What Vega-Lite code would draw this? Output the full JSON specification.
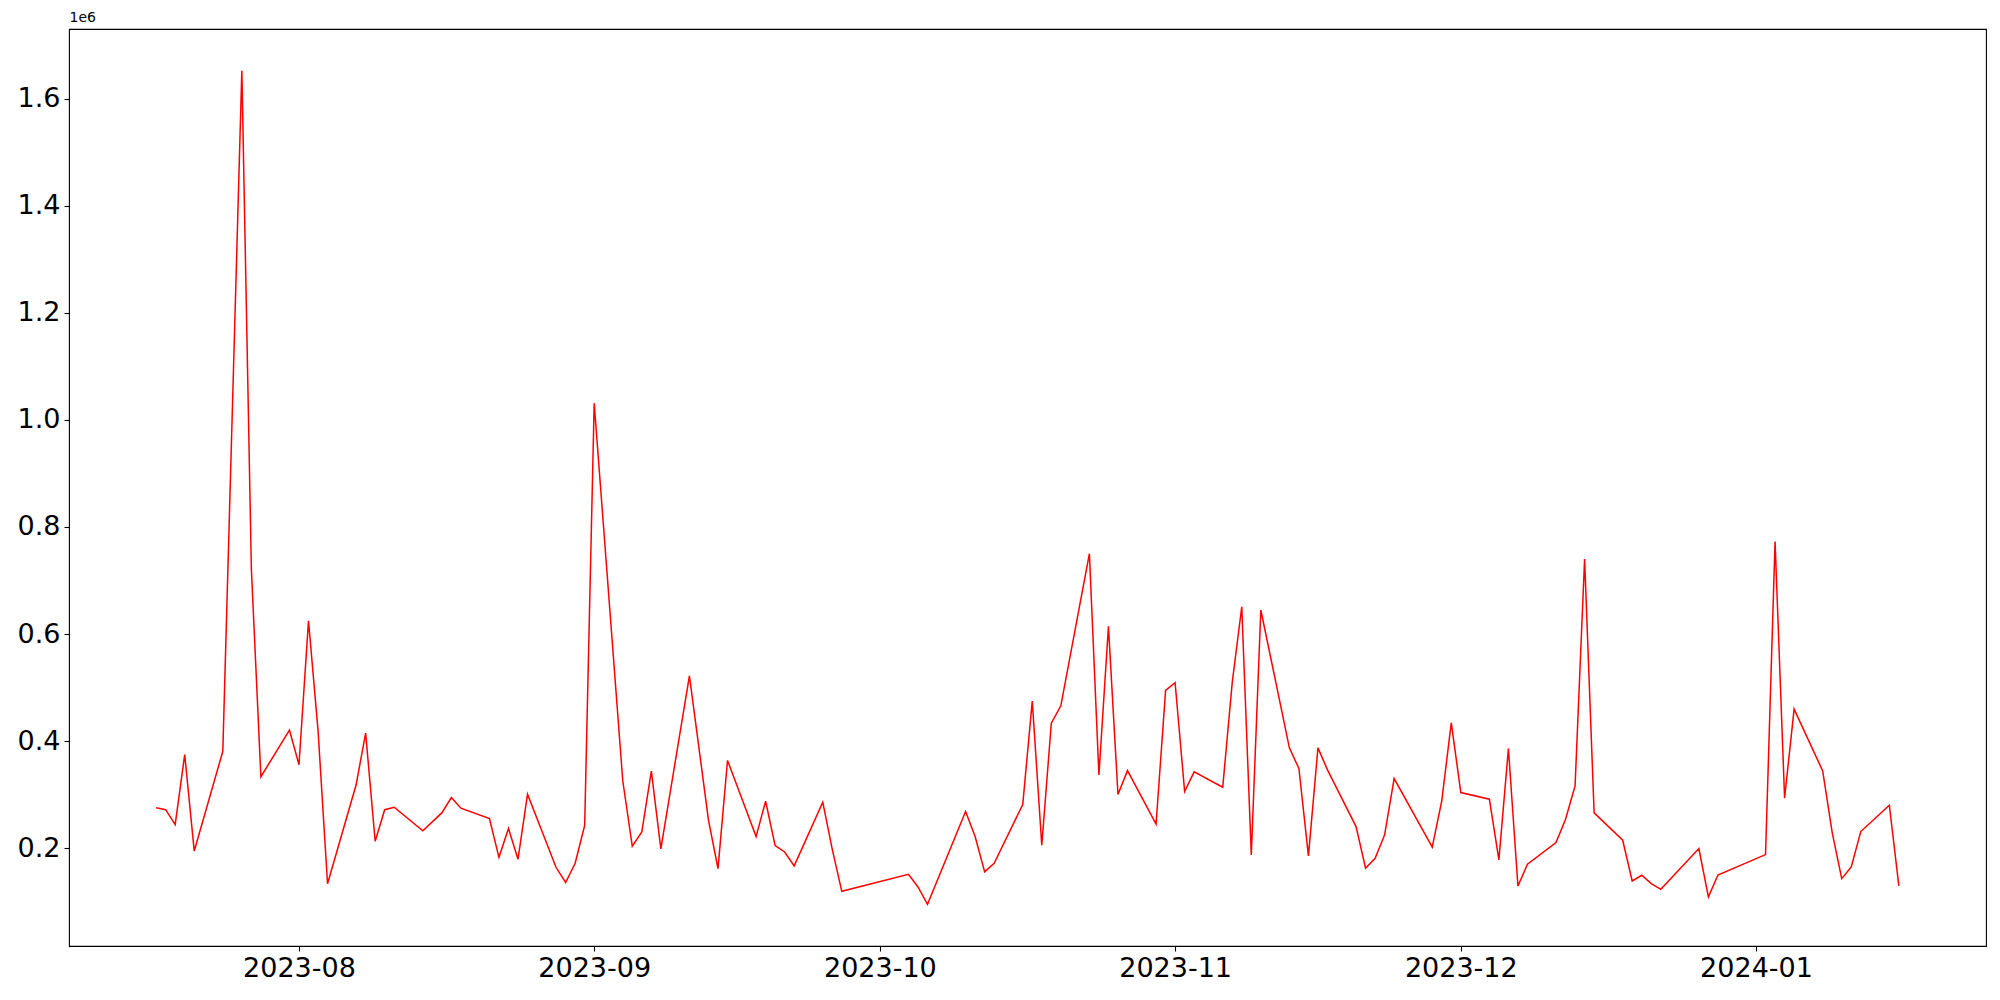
{
  "$schema": "https://vega.github.io/schema/vega-lite/v6.json",
  "width": 1917,
  "height": 917,
  "autosize": {"type": "none"},
  "padding": {"left": 69, "top": 29, "right": 14, "bottom": 54},
  "background": "white",
  "config": {
    "view": {"stroke": "black", "strokeWidth": 1.1},
    "font": "DejaVu Sans",
    "axis": {
      "grid": false,
      "domain": false,
      "tickColor": "black",
      "tickSize": 5,
      "tickWidth": 1.1,
      "labelColor": "black",
      "labelFont": "DejaVu Sans",
      "labelFontSize": 27,
      "labelPadding": 4
    }
  },
  "data": {
    "values": [
      {"date": "2023-07-17", "value": 275500},
      {"date": "2023-07-18", "value": 272000},
      {"date": "2023-07-19", "value": 244000},
      {"date": "2023-07-20", "value": 375000},
      {"date": "2023-07-21", "value": 195000},
      {"date": "2023-07-24", "value": 381000},
      {"date": "2023-07-26", "value": 1652000},
      {"date": "2023-07-27", "value": 721500},
      {"date": "2023-07-28", "value": 333500},
      {"date": "2023-07-31", "value": 420600},
      {"date": "2023-08-01", "value": 356000},
      {"date": "2023-08-02", "value": 624700},
      {"date": "2023-08-03", "value": 420600},
      {"date": "2023-08-04", "value": 133600},
      {"date": "2023-08-07", "value": 318500},
      {"date": "2023-08-08", "value": 415000},
      {"date": "2023-08-09", "value": 213000},
      {"date": "2023-08-10", "value": 272000},
      {"date": "2023-08-11", "value": 276600},
      {"date": "2023-08-14", "value": 232500},
      {"date": "2023-08-16", "value": 266000},
      {"date": "2023-08-17", "value": 294800},
      {"date": "2023-08-18", "value": 274800},
      {"date": "2023-08-21", "value": 255300},
      {"date": "2023-08-22", "value": 183000},
      {"date": "2023-08-23", "value": 237000},
      {"date": "2023-08-24", "value": 179600},
      {"date": "2023-08-25", "value": 301000},
      {"date": "2023-08-28", "value": 164000},
      {"date": "2023-08-29", "value": 136000},
      {"date": "2023-08-30", "value": 172000},
      {"date": "2023-08-31", "value": 242600},
      {"date": "2023-09-01", "value": 1031000},
      {"date": "2023-09-04", "value": 326000},
      {"date": "2023-09-05", "value": 203700},
      {"date": "2023-09-06", "value": 230500},
      {"date": "2023-09-07", "value": 344000},
      {"date": "2023-09-08", "value": 199000},
      {"date": "2023-09-11", "value": 522000},
      {"date": "2023-09-13", "value": 252600},
      {"date": "2023-09-14", "value": 162000},
      {"date": "2023-09-15", "value": 364000},
      {"date": "2023-09-18", "value": 221800},
      {"date": "2023-09-19", "value": 287800},
      {"date": "2023-09-20", "value": 205000},
      {"date": "2023-09-21", "value": 193000},
      {"date": "2023-09-22", "value": 167000},
      {"date": "2023-09-25", "value": 286000},
      {"date": "2023-09-26", "value": 198000},
      {"date": "2023-09-27", "value": 119600},
      {"date": "2023-10-04", "value": 151400},
      {"date": "2023-10-05", "value": 127700},
      {"date": "2023-10-06", "value": 95300},
      {"date": "2023-10-10", "value": 268500},
      {"date": "2023-10-11", "value": 221800},
      {"date": "2023-10-12", "value": 155800},
      {"date": "2023-10-13", "value": 172000},
      {"date": "2023-10-16", "value": 281600},
      {"date": "2023-10-17", "value": 474800},
      {"date": "2023-10-18", "value": 205600},
      {"date": "2023-10-19", "value": 433600},
      {"date": "2023-10-20", "value": 466000},
      {"date": "2023-10-23", "value": 750000},
      {"date": "2023-10-24", "value": 337000},
      {"date": "2023-10-25", "value": 614300},
      {"date": "2023-10-26", "value": 300300},
      {"date": "2023-10-27", "value": 345000},
      {"date": "2023-10-30", "value": 244900},
      {"date": "2023-10-31", "value": 494700},
      {"date": "2023-11-01", "value": 509000},
      {"date": "2023-11-02", "value": 306000},
      {"date": "2023-11-03", "value": 342700},
      {"date": "2023-11-06", "value": 314000},
      {"date": "2023-11-07", "value": 509700},
      {"date": "2023-11-08", "value": 651000},
      {"date": "2023-11-09", "value": 187500},
      {"date": "2023-11-10", "value": 644900},
      {"date": "2023-11-13", "value": 387500},
      {"date": "2023-11-14", "value": 348900},
      {"date": "2023-11-15", "value": 185700},
      {"date": "2023-11-16", "value": 387500},
      {"date": "2023-11-17", "value": 346400},
      {"date": "2023-11-20", "value": 240500},
      {"date": "2023-11-21", "value": 162600},
      {"date": "2023-11-22", "value": 181300},
      {"date": "2023-11-23", "value": 224900},
      {"date": "2023-11-24", "value": 330200},
      {"date": "2023-11-28", "value": 201900},
      {"date": "2023-11-29", "value": 288500},
      {"date": "2023-11-30", "value": 434300},
      {"date": "2023-12-01", "value": 304000},
      {"date": "2023-12-04", "value": 291600},
      {"date": "2023-12-05", "value": 178200},
      {"date": "2023-12-06", "value": 386300},
      {"date": "2023-12-07", "value": 129600},
      {"date": "2023-12-08", "value": 170100},
      {"date": "2023-12-11", "value": 210600},
      {"date": "2023-12-12", "value": 254200},
      {"date": "2023-12-13", "value": 316500},
      {"date": "2023-12-14", "value": 740200},
      {"date": "2023-12-15", "value": 266000},
      {"date": "2023-12-18", "value": 215000},
      {"date": "2023-12-19", "value": 138900},
      {"date": "2023-12-20", "value": 149500},
      {"date": "2023-12-21", "value": 134000},
      {"date": "2023-12-22", "value": 123400},
      {"date": "2023-12-26", "value": 199400},
      {"date": "2023-12-27", "value": 109000},
      {"date": "2023-12-28", "value": 150000},
      {"date": "2024-01-02", "value": 188200},
      {"date": "2024-01-03", "value": 772600},
      {"date": "2024-01-04", "value": 293500},
      {"date": "2024-01-05", "value": 459800},
      {"date": "2024-01-08", "value": 344500},
      {"date": "2024-01-09", "value": 229300},
      {"date": "2024-01-10", "value": 143300},
      {"date": "2024-01-11", "value": 165100},
      {"date": "2024-01-12", "value": 231200},
      {"date": "2024-01-15", "value": 280400},
      {"date": "2024-01-16", "value": 129600}
    ]
  },
  "mark": {"type": "line", "color": "#ff0000", "strokeWidth": 1.5, "clip": true},
  "encoding": {
    "x": {
      "field": "date",
      "type": "temporal",
      "scale": {
        "type": "utc",
        "domain": [
          {"year": 2023, "month": 7, "date": 7, "hours": 20, "minutes": 24, "utc": true},
          {"year": 2024, "month": 1, "date": 25, "hours": 3, "minutes": 36, "utc": true}
        ]
      },
      "axis": {
        "title": null,
        "labelExpr": "utcFormat(datum.value, '%Y-%m')",
        "tickCount": {"interval": "month", "step": 1},
        "labelOverlap": false,
        "labelFlush": false
      }
    },
    "y": {
      "field": "value",
      "type": "quantitative",
      "scale": {"domain": [17465, 1729835], "nice": false, "zero": false},
      "axis": {
        "values": [200000, 400000, 600000, 800000, 1000000, 1200000, 1400000, 1600000],
        "labelExpr": "format(datum.value / 1000000, '.1f')",
        "title": "1e6",
        "titleAngle": 0,
        "titleX": 0,
        "titleY": -5,
        "titleAlign": "left",
        "titleBaseline": "bottom",
        "titleFontSize": 14,
        "titleFontWeight": "normal",
        "titleFont": "DejaVu Sans",
        "titleColor": "black",
        "labelOverlap": false,
        "labelFlush": false
      }
    }
  }
}
